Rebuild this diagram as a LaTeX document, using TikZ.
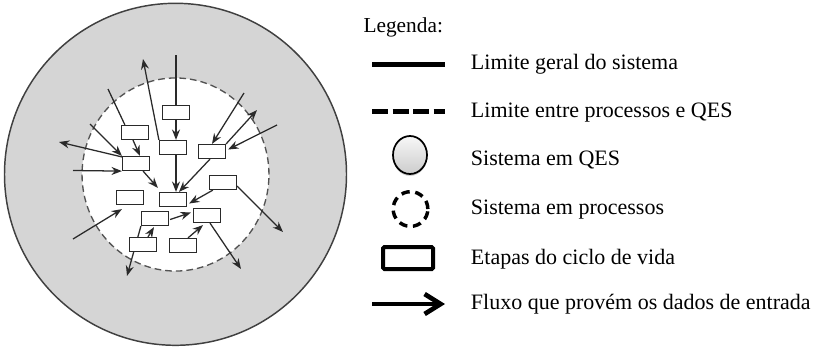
\documentclass[tikz,border=0pt]{standalone}
\usepackage{fontspec}
\setmainfont{Liberation Serif}
\usetikzlibrary{arrows.meta,calc,shapes.geometric,shadows}
\definecolor{outerfill}{HTML}{D5D5D5}
\definecolor{edgegray}{HTML}{404040}
\definecolor{arrowgray}{HTML}{2A2A2A}
\pgfdeclarelayer{bg}
\pgfdeclarelayer{edges}
\pgfsetlayers{bg,edges,main}
\tikzset{
  stage/.style={draw=arrowgray, fill=white, line width=0.9pt, minimum width=20.25pt, minimum height=10.5pt, inner sep=0pt},
  flow/.style={draw=arrowgray, line width=0.95pt, -{Stealth[length=7.8pt,width=6pt]}},
  plainflow/.style={draw=arrowgray, line width=0.95pt},
  legtext/.style={anchor=base west, inner sep=0pt, font=\fontsize{16.5}{20}\selectfont},
}
\begin{document}
\begin{tikzpicture}[x=0.75pt,y=-0.75pt]
\useasboundingbox (0,0) rectangle (816,347);

% circles
\begin{pgfonlayer}{bg}
\draw[fill=outerfill, draw=edgegray, line width=1.1pt] (175.5,174.3) circle [radius=128.25pt];
\draw[fill=white, draw=edgegray!90, line width=1pt, dash pattern=on 5pt off 3pt] (175.5,174.5) ellipse [x radius=70.1pt, y radius=72.4pt];
\end{pgfonlayer}

% life-cycle stages
\node[stage] (b1) at (176,112.5) {};
\node[stage] (b2) at (135,132.5) {};
\node[stage] (b3) at (173,147.5) {};
\node[stage] (b4) at (212,151.5) {};
\node[stage] (b5) at (136,163.5) {};
\node[stage] (b6) at (223,182.5) {};
\node[stage] (b7) at (130,197.5) {};
\node[stage] (b8) at (173,199.5) {};
\node[stage] (b9) at (155,218.5) {};
\node[stage] (b10) at (207,215.5) {};
\node[stage] (b11) at (143,244.5) {};
\node[stage] (b12) at (183,245.5) {};

% free ends
\coordinate (pa) at (176,55);
\coordinate (pb) at (143,59);
\coordinate (pc) at (108,89);
\coordinate (pd) at (90,124);
\coordinate (pe) at (59,142);
\coordinate (pf) at (73,170.5);
\coordinate (pj) at (244,93);
\coordinate (pk) at (257,110);
\coordinate (pl) at (277,125);
\coordinate (pm) at (283,232);
\coordinate (po) at (73,239);
\coordinate (pq) at (127,276);
\coordinate (ps) at (241,269);

\begin{pgfonlayer}{edges}
\draw[plainflow] (pa) -- (b1.north);
\draw[flow] (b1.south) -- (b3.north -| b1.south);
\draw[flow] (b3.north west) -- (pb);
\draw[plainflow] (pc) -- ($(b2.north west)+(4,0)$);
\draw[flow] ($(b2.south)+(-2,0)$) -- ($(b5.north)+(4,0)$);
\draw[flow] (pd) -- (b5.north west);
\draw[flow] ($(b5.north west)+(0,1)$) -- (pe);
\draw[flow] (pf) -- (b5.south west);
\draw[flow] ($(b5.south east)+(-7,0)$) -- ($(b8.north west)+(-1,-4)$);
\draw[flow] ($(b3.south)+(3,0)$) -- ($(b8.north)+(3,0)$);
\draw[flow] ($(b4.south)+(-2,0)$) -- ($(b8.north)+(6,0)$);
\draw[flow] (pj) -- (b4.north);
\draw[flow] (b4.north east) -- (pk);
\draw[flow] (pl) -- ($(b4.east)+(2,-2)$);
\draw[flow] ($(b6.south east)+(0,-4)$) -- (pm);
\draw[flow] ($(b6.south west)+(4,0)$) -- ($(b8.east)+(2,4)$);
\draw[flow] (po) -- ($(b7.south west)+(6,4)$);
\draw[flow] ($(b9.east)+(1,1)$) -- ($(b10.west)+(-2,-3)$);
\draw[flow] (b9.south west) -- (pq);
\draw[flow] ($(b11.north)+(5,0)$) -- ($(b9.south)+(-1,1)$);
\draw[flow] ($(b12.north)+(5,0)$) -- ($(b10.south)+(-4,2)$);
\draw[flow] ($(b10.south)+(3,0)$) -- (ps);
\end{pgfonlayer}

% legend
\node[anchor=base west, inner sep=0pt, font=\fontsize{16}{19}\selectfont] (leg) at (363.3,32.7) {Legenda:};

\coordinate (l1a) at (372,64.5);
\coordinate (l1b) at (445,64.5);
\draw[line width=3.75pt] (l1a) -- (l1b);
\node[legtext] (t1) at (470.7,69.3) {Limite geral do sistema};

\coordinate (l2a) at (372,111);
\coordinate (l2b) at (445,111);
\draw[line width=3.75pt, dash pattern=on 12pt off 3.4pt] (l2a) -- (l2b);
\node[legtext] (t2) at (470.7,117.3) {Limite entre processos e QES};

\node[ellipse, draw=black, line width=1.3pt, top color=gray!6, bottom color=gray!40, minimum width=25.5pt, minimum height=28.5pt, inner sep=0pt, drop shadow={opacity=0.35, shadow xshift=0pt, shadow yshift=-1.5pt}] (s3) at (410,155) {};
\node[legtext] (t3) at (470.7,165.7) {Sistema em QES};

\node[circle, draw=black, line width=2.6pt, dash pattern=on 6.3pt off 4.2pt, minimum size=26pt, inner sep=0pt] (s4) at (410.5,209) {};
\node[legtext] (t4) at (470.7,214.3) {Sistema em processos};

\node[draw=black, line width=3pt, rounded corners=1pt, minimum width=37.5pt, minimum height=16.5pt, inner sep=0pt] (s5) at (408,258) {};
\node[legtext] (t5) at (470.7,264.3) {Etapas do ciclo de vida};

\coordinate (l6a) at (372,304);
\coordinate (l6b) at (445,304);
\draw[line width=3.5pt, -{Straight Barb[length=12pt,width=15pt]}] (l6a) -- (l6b);
\node[legtext] (t6) at (470.7,309.3) {Fluxo que provém os dados de entrada};
\end{tikzpicture}
\end{document}
